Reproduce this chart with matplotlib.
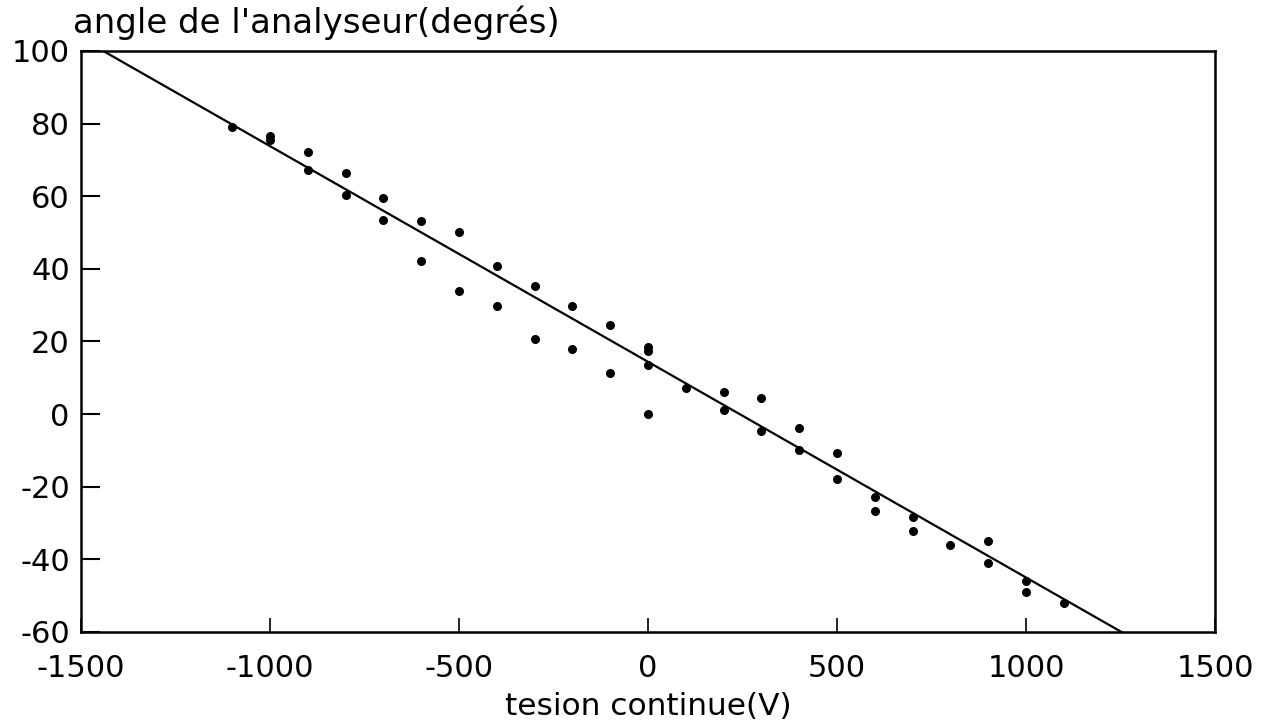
import matplotlib.pyplot as plt
import numpy as np

plt.rcParams['font.family'] = ['DejaVu Sans']
plt.rcParams['axes.unicode_minus'] = False

# mesures : tension continue (V) et angle de l'analyseur (degres)
tension = [-1100, -1000, -1000, -900, -900, -800, -800, -700, -700,
           -600, -600, -500, -500, -400, -400, -300, -300, -200, -200,
           -100, -100, 0, 0, 0, 0, 100, 200, 200, 300, 300, 400, 400,
           500, 500, 600, 600, 700, 700, 800, 900, 900, 1000, 1000, 1100]
angle = [79, 76.5, 75.5, 72.1, 67.2, 66.3, 60.3, 59.4, 53.4,
         53.1, 42.1, 50.1, 33.8, 40.7, 29.9, 35.4, 20.6, 29.7, 17.8,
         24.4, 11.4, 18.6, 17.5, 13.4, 0, 7.3, 6.2, 1.2, 4.3, -4.6, -3.7, -9.8,
         -10.8, -17.8, -22.8, -26.6, -28.3, -32.1, -36, -35, -41, -46, -49.1, -52]

# droite ajustee
pente = -0.0594
ordonnee = 14.4

xticks = [-1500, -1000, -500, 0, 500, 1000, 1500]
yticks = [-60, -40, -20, 0, 20, 40, 60, 80, 100]

fig = plt.figure(figsize=(12.65, 7.26), dpi=100)
ax = fig.add_axes([0.064, 0.1295, 0.8965, 0.8003])

xs = np.linspace(-1500, 1500, 200)
ax.plot(xs, pente * xs + ordonnee, color='black', lw=1.6)
ax.scatter(tension, angle, s=30, color='black', zorder=3)

ax.set_xlim(-1500, 1500)
ax.set_ylim(-60, 100)
ax.set_xticks(xticks)
ax.set_yticks(yticks)
ax.tick_params(axis='x', direction='in', length=10, width=1.2, pad=16, labelsize=22)
ax.tick_params(axis='y', direction='in', length=14, width=1.5, pad=8, labelsize=22)
for s in ax.spines.values():
    s.set_linewidth(1.8)

ax.set_xlabel("tesion continue(V)", fontsize=22.5, labelpad=6)
fig.text(0.058, 0.969, "angle de l'analyseur(degrés)", fontsize=24.5, va='center', ha='left')

plt.savefig("out.png", dpi=100)
